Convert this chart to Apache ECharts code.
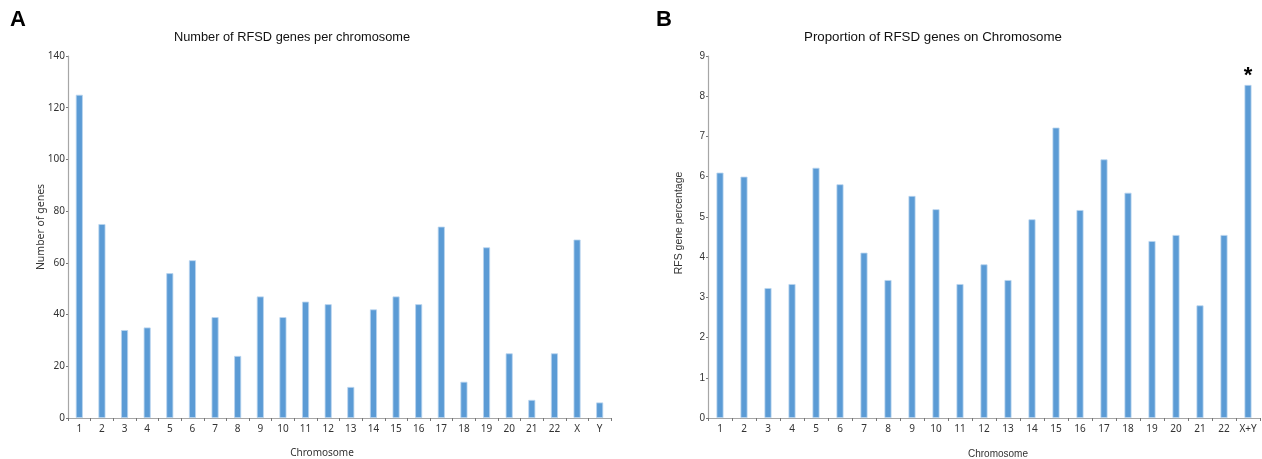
<!DOCTYPE html>
<html>
<head>
<meta charset="utf-8">
<title>RFSD genes by chromosome</title>
<script src="https://cdn.jsdelivr.net/npm/echarts@6/dist/echarts.min.js"></script>
<style>
  html, body { margin: 0; padding: 0; background: #ffffff; }
  #chart { width: 1262px; height: 459px; }
</style>
</head>
<body>
<div id="chart"></div>
<script>
// Panel A: RFSD gene counts per chromosome
const countCategories = ['1','2','3','4','5','6','7','8','9','10','11','12','13','14','15','16','17','18','19','20','21','22','X','Y'];
const geneCounts = [125, 75, 34, 35, 56, 61, 39, 24, 47, 39, 45, 44, 12, 42, 47, 44, 74, 14, 66, 25, 7, 25, 69, 6];
const countTicks = { min: 0, max: 140, interval: 20 };

// Panel B: share of each chromosome's genes that are RFSD genes (%)
const shareCategories = ['1','2','3','4','5','6','7','8','9','10','11','12','13','14','15','16','17','18','19','20','21','22','X+Y'];
const geneShare = [6.10, 6.00, 3.23, 3.33, 6.22, 5.81, 4.11, 3.43, 5.52, 5.19, 3.33, 3.82, 3.43, 4.94, 7.22, 5.17, 6.43, 5.60, 4.40, 4.55, 2.80, 4.55, 8.28];
const shareTicks = { min: 0, max: 9, interval: 1 };
const significant = ['X+Y'];

const BAR = '#5b9bd5';
const BAR_EDGE = '#b9d4ef';
const AXIS = '#a6a6a6';
const TEXT = '#333333';
const TICK_FONT = 'Noto Sans';
const TITLE_FONT = 'Liberation Sans';

function xAxisFor(gridIndex, cats) {
  return {
    type: 'category', gridIndex, data: cats,
    axisLine: { lineStyle: { color: AXIS, width: 1.2 } },
    axisTick: { show: true, length: 3, lineStyle: { color: '#777' } },
    axisLabel: { interval: 0, color: TEXT, fontFamily: TICK_FONT, fontSize: 10, margin: 6 }
  };
}
function yAxisFor(gridIndex, ticks, font, size) {
  return {
    type: 'value', gridIndex, min: ticks.min, max: ticks.max, interval: ticks.interval,
    splitLine: { show: false },
    axisLine: { show: true, lineStyle: { color: AXIS, width: 1.2 } },
    axisTick: { show: true, length: 2, lineStyle: { color: '#777' } },
    axisLabel: { color: TEXT, fontFamily: font, fontSize: size, margin: 3 }
  };
}

const barStyle = { color: BAR, borderColor: BAR_EDGE, borderWidth: 0.8 };

const option = {
  animation: false,
  backgroundColor: '#ffffff',
  grid: [
    { left: 68, right: 651, top: 56, bottom: 41 },
    { left: 708, right: 2, top: 56, bottom: 41 }
  ],
  xAxis: [xAxisFor(0, countCategories), xAxisFor(1, shareCategories)],
  yAxis: [
    yAxisFor(0, countTicks, TICK_FONT, 10),
    yAxisFor(1, shareTicks, TITLE_FONT, 10)
  ],
  series: [
    {
      type: 'bar', xAxisIndex: 0, yAxisIndex: 0, barWidth: 7,
      itemStyle: barStyle, data: geneCounts
    },
    {
      type: 'bar', xAxisIndex: 1, yAxisIndex: 1, barWidth: 7,
      itemStyle: barStyle,
      data: geneShare.map((v, i) => significant.includes(shareCategories[i])
        ? { value: v, label: { show: true, position: 'top', formatter: '*', distance: -2,
            fontFamily: TITLE_FONT, fontWeight: 'bold', fontSize: 22, color: '#000' } }
        : v)
    }
  ],
  graphic: [
    { type: 'text', left: 10, top: 9, style: { text: 'A', font: 'bold 22px "Liberation Sans"', fill: '#000' } },
    { type: 'text', left: 656, top: 9, style: { text: 'B', font: 'bold 22px "Liberation Sans"', fill: '#000' } },
    { type: 'text', x: 292, y: 37, style: { text: 'Number of RFSD genes per chromosome', font: '12.8px "Liberation Sans"', fill: '#111', align: 'center', verticalAlign: 'middle' } },
    { type: 'text', x: 933, y: 37, style: { text: 'Proportion of RFSD genes on Chromosome', font: '13.3px "Liberation Sans"', fill: '#111', align: 'center', verticalAlign: 'middle' } },
    { type: 'text', x: 41, y: 227, rotation: Math.PI / 2, style: { text: 'Number of genes', font: '10.5px "Noto Sans"', fill: TEXT, align: 'center', verticalAlign: 'middle' } },
    { type: 'text', x: 679, y: 223, rotation: Math.PI / 2, style: { text: 'RFS gene percentage', font: '10.5px "Liberation Sans"', fill: TEXT, align: 'center', verticalAlign: 'middle' } },
    { type: 'text', x: 322, y: 453, style: { text: 'Chromosome', font: '10px "Noto Sans"', fill: TEXT, align: 'center', verticalAlign: 'middle' } },
    { type: 'text', x: 998, y: 454, style: { text: 'Chromosome', font: '10px "Liberation Sans"', fill: TEXT, align: 'center', verticalAlign: 'middle' } }
  ]
};

echarts.init(document.getElementById('chart'), null, { renderer: 'canvas' }).setOption(option);
</script>
</body>
</html>
